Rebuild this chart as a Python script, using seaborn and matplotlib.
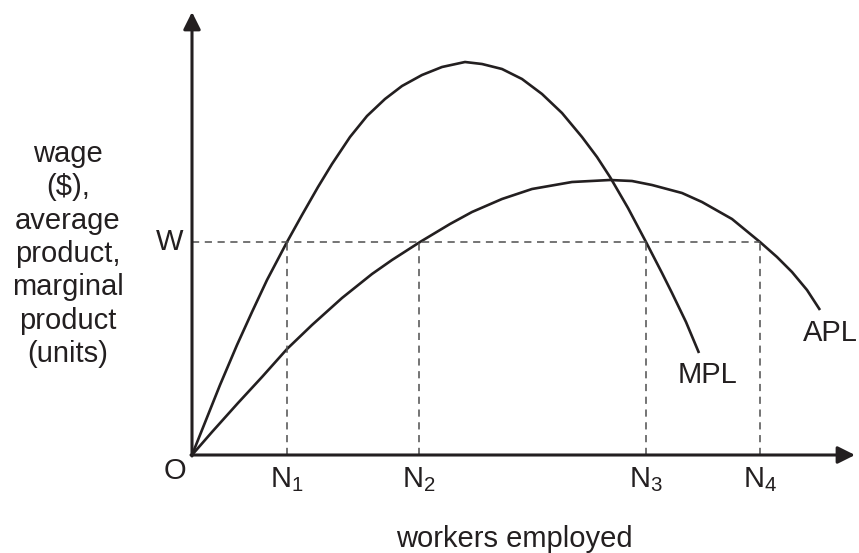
import matplotlib
matplotlib.use("Agg")
import matplotlib.pyplot as plt
import seaborn as sns
import pandas as pd

# ---- data (axis origin = (0, 0)) ----
mpl_x = [0, 28, 45, 60, 75, 95, 110, 126, 140, 158, 175, 193, 210, 230, 250,
         273, 290, 310, 330, 350, 370, 390, 405, 418, 436, 454, 470, 480, 494, 507]
mpl_y = [0, 70, 110, 143, 175, 213, 240, 268, 291, 318, 339, 356, 369, 380, 388,
         393, 391, 386, 376, 361, 342, 318, 298, 278, 247, 213, 182, 162, 133, 102]

apl_x = [0, 20, 46, 70, 95, 120, 150, 180, 200, 228, 258, 280, 310, 340, 380,
         418, 440, 460, 490, 510, 540, 568, 585, 600, 615, 628]
apl_y = [0, 23, 52, 78, 106, 130, 157, 181, 195, 213, 231, 243, 256, 266, 273,
         275, 274, 270, 262, 253, 236, 213, 198, 183, 165, 145]

wage_level = 213
n_positions = [95, 227, 454, 568]
n_labels = ["N$_1$", "N$_2$", "N$_3$", "N$_4$"]
curve_labels = ["MPL", "APL"]
y_title = "wage\n($),\naverage\nproduct,\nmarginal\nproduct\n(units)"
x_title = "workers employed"

# ---- styling ----
sns.set_theme(style="white")
plt.rcParams["font.family"] = ["Liberation Sans", "DejaVu Sans"]
plt.rcParams["mathtext.fontset"] = "custom"
plt.rcParams["mathtext.rm"] = "Liberation Sans"
plt.rcParams["mathtext.it"] = "Liberation Sans"

ink = "#231f20"
dash_col = "#555555"
fs = 21

fig = plt.figure(figsize=(8.59, 5.53), dpi=100)
ax = fig.add_axes([0, 0, 1, 1])
ax.set_xlim(-192, 667)
ax.set_ylim(-98, 455)
ax.axis("off")

df = pd.concat([
    pd.DataFrame({"x": mpl_x, "y": mpl_y, "curve": curve_labels[0]}),
    pd.DataFrame({"x": apl_x, "y": apl_y, "curve": curve_labels[1]}),
])
sns.lineplot(data=df, x="x", y="y", units="curve", estimator=None, sort=False,
             color=ink, lw=1.9, ax=ax, legend=False,
             solid_joinstyle="round", solid_capstyle="butt")

# dashed guide lines
ax.plot([0, n_positions[-1]], [wage_level, wage_level], ls=(0, (4.5, 3.5)),
        color=dash_col, lw=1.15)
for n in n_positions:
    ax.plot([n, n], [0, wage_level], ls=(0, (4.5, 3.5)), color=dash_col, lw=1.15)

# axes with arrows
arrow = dict(arrowstyle="-|>", color=ink, lw=2.2, mutation_scale=26,
             shrinkA=0, shrinkB=0)
ax.annotate("", xy=(0, 443), xytext=(0, -1), arrowprops=arrow)
ax.annotate("", xy=(663, 0), xytext=(-1, 0), arrowprops=arrow)

# labels
ax.text(-124, 201, y_title, ha="center", va="center", fontsize=fs,
        color=ink, linespacing=1.24)
ax.text(-22, wage_level, "W", ha="center", va="center", fontsize=fs, color=ink)
ax.text(-17, -16, "O", ha="center", va="center", fontsize=fs, color=ink)
for n, lab in zip(n_positions, n_labels):
    ax.text(n, -32, lab, ha="center", va="baseline", fontsize=fs, color=ink)
ax.text(515, 80, curve_labels[0], ha="center", va="center", fontsize=fs, color=ink)
ax.text(638, 122, curve_labels[1], ha="center", va="center", fontsize=fs, color=ink)
ax.text(322, -92, x_title, ha="center", va="baseline", fontsize=fs, color=ink)

fig.savefig("out.png", dpi=100, facecolor="white")
